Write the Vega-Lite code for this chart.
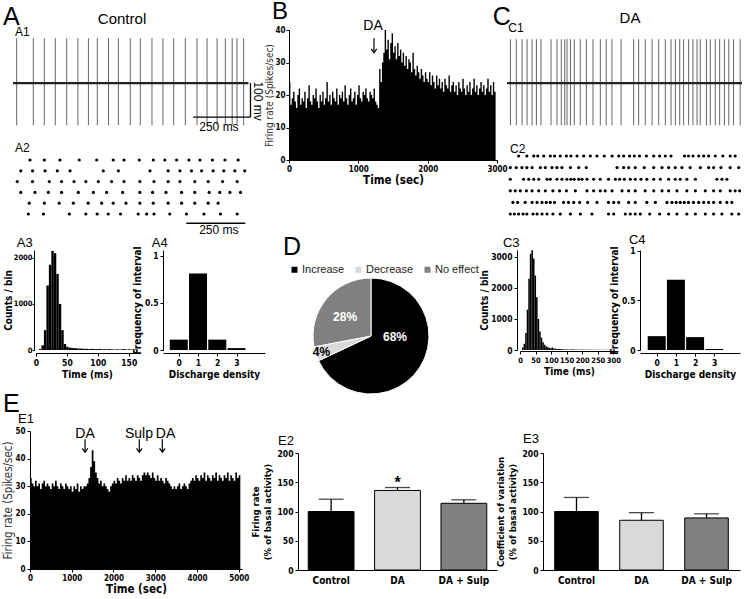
{
"$schema":"https://vega.github.io/schema/vega-lite/v6.json",
"background":"white",
"width":745,"height":599,
"autosize":{"type":"none"},
"padding":0,
"config":{
 "view":{"stroke":null},
 "axis":{"grid":false,"labelFont":"Liberation Sans Narrow, DejaVu Sans Condensed, sans-serif","labelFontWeight":"bold","labelFontSize":8.5,"labelColor":"#000","titleFont":"Liberation Sans Narrow, DejaVu Sans Condensed, sans-serif","titleFontWeight":"bold","titleFontSize":10,"titleColor":"#000","domainColor":"#000","tickColor":"#000","tickSize":3,"labelPadding":2,"titlePadding":3,"labelFlush":false,"labelOverlap":false},
 "text":{"font":"Liberation Sans, Arial, sans-serif","color":"#000"}
},
"datasets":{
 "a1spk":[{"t":16},{"t":89},{"t":137},{"t":185},{"t":235},{"t":284},{"t":330},{"t":369},{"t":418},{"t":461},{"t":513},{"t":557},{"t":608},{"t":656},{"t":703},{"t":754},{"t":805},{"t":849},{"t":893},{"t":929},{"t":959},{"t":980},{"t":1009}],
 "c1spk":[{"t":15},{"t":41},{"t":66},{"t":88},{"t":110},{"t":129},{"t":149},{"t":193},{"t":219},{"t":238},{"t":253},{"t":263},{"t":278},{"t":295},{"t":321},{"t":348},{"t":377},{"t":409},{"t":435},{"t":460},{"t":500},{"t":555},{"t":577},{"t":606},{"t":636},{"t":665},{"t":694},{"t":719},{"t":738},{"t":757},{"t":774},{"t":796},{"t":815},{"t":833},{"t":847},{"t":874},{"t":891},{"t":913},{"t":932},{"t":953},{"t":972},{"t":993},{"t":1022}],
 "a2ras":[
  {"r":1,"t":72},{"r":1,"t":133},{"r":1,"t":199},{"r":1,"t":281},{"r":1,"t":355},{"r":1,"t":425},{"r":1,"t":471},{"r":1,"t":536},{"r":1,"t":595},{"r":1,"t":644},{"r":1,"t":694},{"r":1,"t":746},{"r":1,"t":793},{"r":1,"t":846},{"r":1,"t":899},{"r":1,"t":955},
  {"r":2,"t":33},{"r":2,"t":83},{"r":2,"t":136},{"r":2,"t":188},{"r":2,"t":242},{"r":2,"t":383},{"r":2,"t":447},{"r":2,"t":581},{"r":2,"t":658},{"r":2,"t":708},{"r":2,"t":757},{"r":2,"t":800},{"r":2,"t":849},{"r":2,"t":894},{"r":2,"t":941},{"r":2,"t":983},
  {"r":3,"t":18},{"r":3,"t":83},{"r":3,"t":154},{"r":3,"t":206},{"r":3,"t":259},{"r":3,"t":309},{"r":3,"t":362},{"r":3,"t":418},{"r":3,"t":471},{"r":3,"t":538},{"r":3,"t":598},{"r":3,"t":658},{"r":3,"t":708},{"r":3,"t":771},{"r":3,"t":828},{"r":3,"t":889},{"r":3,"t":951},
  {"r":4,"t":33},{"r":4,"t":93},{"r":4,"t":150},{"r":4,"t":206},{"r":4,"t":277},{"r":4,"t":341},{"r":4,"t":397},{"r":4,"t":465},{"r":4,"t":538},{"r":4,"t":592},{"r":4,"t":649},{"r":4,"t":715},{"r":4,"t":771},{"r":4,"t":832},{"r":4,"t":877},{"r":4,"t":920},{"r":4,"t":965},
  {"r":5,"t":69},{"r":5,"t":133},{"r":5,"t":196},{"r":5,"t":256},{"r":5,"t":319},{"r":5,"t":376},{"r":5,"t":425},{"r":5,"t":479},{"r":5,"t":538},{"r":5,"t":595},{"r":5,"t":658},{"r":5,"t":715},{"r":5,"t":771},{"r":5,"t":828},{"r":5,"t":870},
  {"r":6,"t":65},{"r":6,"t":129},{"r":6,"t":239},{"r":6,"t":309},{"r":6,"t":357},{"r":6,"t":404},{"r":6,"t":456},{"r":6,"t":531},{"r":6,"t":567},{"r":6,"t":598},{"r":6,"t":665},{"r":6,"t":736},{"r":6,"t":810},{"r":6,"t":880},{"r":6,"t":951}],
 "c2ras":[
  {"r":1,"t":49},{"r":1,"t":84},{"r":1,"t":113},{"r":1,"t":130},{"r":1,"t":155},{"r":1,"t":183},{"r":1,"t":201},{"r":1,"t":225},{"r":1,"t":251},{"r":1,"t":270},{"r":1,"t":296},{"r":1,"t":324},{"r":1,"t":352},{"r":1,"t":380},{"r":1,"t":411},{"r":1,"t":444},{"r":1,"t":472},{"r":1,"t":493},{"r":1,"t":518},{"r":1,"t":538},{"r":1,"t":560},{"r":1,"t":589},{"r":1,"t":620},{"r":1,"t":645},{"r":1,"t":669},{"r":1,"t":693},{"r":1,"t":750},{"r":1,"t":767},{"r":1,"t":786},{"r":1,"t":810},{"r":1,"t":831},{"r":1,"t":852},{"r":1,"t":880},{"r":1,"t":912},{"r":1,"t":943},{"r":1,"t":964},
  {"r":2,"t":14},{"r":2,"t":39},{"r":2,"t":63},{"r":2,"t":84},{"r":2,"t":106},{"r":2,"t":141},{"r":2,"t":162},{"r":2,"t":190},{"r":2,"t":211},{"r":2,"t":232},{"r":2,"t":268},{"r":2,"t":303},{"r":2,"t":335},{"r":2,"t":465},{"r":2,"t":493},{"r":2,"t":514},{"r":2,"t":542},{"r":2,"t":580},{"r":2,"t":620},{"r":2,"t":655},{"r":2,"t":683},{"r":2,"t":711},{"r":2,"t":739},{"r":2,"t":774},{"r":2,"t":817},{"r":2,"t":852},{"r":2,"t":873},{"r":2,"t":904},{"r":2,"t":943},{"r":2,"t":979},
  {"r":3,"t":14},{"r":3,"t":70},{"r":3,"t":92},{"r":3,"t":113},{"r":3,"t":134},{"r":3,"t":169},{"r":3,"t":183},{"r":3,"t":211},{"r":3,"t":232},{"r":3,"t":253},{"r":3,"t":270},{"r":3,"t":284},{"r":3,"t":303},{"r":3,"t":317},{"r":3,"t":338},{"r":3,"t":366},{"r":3,"t":394},{"r":3,"t":429},{"r":3,"t":458},{"r":3,"t":476},{"r":3,"t":496},{"r":3,"t":521},{"r":3,"t":542},{"r":3,"t":566},{"r":3,"t":591},{"r":3,"t":620},{"r":3,"t":648},{"r":3,"t":683},{"r":3,"t":711},{"r":3,"t":732},{"r":3,"t":760},{"r":3,"t":796},{"r":3,"t":887},{"r":3,"t":908},{"r":3,"t":929},
  {"r":4,"t":14},{"r":4,"t":35},{"r":4,"t":56},{"r":4,"t":82},{"r":4,"t":106},{"r":4,"t":134},{"r":4,"t":162},{"r":4,"t":194},{"r":4,"t":222},{"r":4,"t":251},{"r":4,"t":289},{"r":4,"t":338},{"r":4,"t":366},{"r":4,"t":394},{"r":4,"t":415},{"r":4,"t":444},{"r":4,"t":486},{"r":4,"t":514},{"r":4,"t":542},{"r":4,"t":584},{"r":4,"t":620},{"r":4,"t":655},{"r":4,"t":683},{"r":4,"t":718},{"r":4,"t":760},{"r":4,"t":796},{"r":4,"t":838},{"r":4,"t":873},{"r":4,"t":901},{"r":4,"t":943},{"r":4,"t":964},{"r":4,"t":983},
  {"r":5,"t":25},{"r":5,"t":45},{"r":5,"t":77},{"r":5,"t":106},{"r":5,"t":127},{"r":5,"t":148},{"r":5,"t":166},{"r":5,"t":183},{"r":5,"t":201},{"r":5,"t":239},{"r":5,"t":260},{"r":5,"t":282},{"r":5,"t":307},{"r":5,"t":341},{"r":5,"t":380},{"r":5,"t":429},{"r":5,"t":451},{"r":5,"t":472},{"r":5,"t":514},{"r":5,"t":542},{"r":5,"t":591},{"r":5,"t":627},{"r":5,"t":676},{"r":5,"t":697},{"r":5,"t":715},{"r":5,"t":732},{"r":5,"t":749},{"r":5,"t":767},{"r":5,"t":788},{"r":5,"t":810},{"r":5,"t":831},{"r":5,"t":852},{"r":5,"t":873},{"r":5,"t":901},{"r":5,"t":929},{"r":5,"t":950},
  {"r":6,"t":14},{"r":6,"t":31},{"r":6,"t":49},{"r":6,"t":68},{"r":6,"t":84},{"r":6,"t":110},{"r":6,"t":127},{"r":6,"t":148},{"r":6,"t":169},{"r":6,"t":194},{"r":6,"t":225},{"r":6,"t":268},{"r":6,"t":310},{"r":6,"t":359},{"r":6,"t":429},{"r":6,"t":451},{"r":6,"t":500},{"r":6,"t":521},{"r":6,"t":542},{"r":6,"t":563},{"r":6,"t":603},{"r":6,"t":645},{"r":6,"t":683},{"r":6,"t":718},{"r":6,"t":760},{"r":6,"t":796},{"r":6,"t":838},{"r":6,"t":873},{"r":6,"t":908},{"r":6,"t":950},{"r":6,"t":979}],
 "a3":[{"t":4,"c":20},{"t":8,"c":100},{"t":12,"c":430},{"t":16,"c":1400},{"t":20,"c":1850},{"t":24,"c":2150},{"t":28,"c":2100},{"t":32,"c":1650},{"t":36,"c":1000},{"t":40,"c":430},{"t":44,"c":130},{"t":48,"c":70},{"t":52,"c":50},{"t":56,"c":45},{"t":60,"c":40},{"t":64,"c":35},{"t":68,"c":30},{"t":72,"c":30},{"t":76,"c":25},{"t":80,"c":25},{"t":84,"c":20},{"t":88,"c":25},{"t":92,"c":20},{"t":96,"c":20},{"t":100,"c":25},{"t":104,"c":15},{"t":108,"c":20},{"t":112,"c":15},{"t":116,"c":20},{"t":120,"c":15},{"t":124,"c":10},{"t":128,"c":15},{"t":132,"c":10},{"t":136,"c":15},{"t":140,"c":20},{"t":144,"c":10},{"t":148,"c":15},{"t":152,"c":10},{"t":156,"c":10},{"t":160,"c":10}],
 "c3":[{"t":5,"c":80},{"t":10,"c":200},{"t":15,"c":550},{"t":20,"c":1300},{"t":25,"c":2300},{"t":30,"c":3100},{"t":35,"c":3220},{"t":40,"c":2950},{"t":45,"c":2400},{"t":50,"c":1700},{"t":55,"c":1000},{"t":60,"c":600},{"t":65,"c":400},{"t":70,"c":250},{"t":75,"c":170},{"t":80,"c":120},{"t":85,"c":90},{"t":90,"c":70},{"t":95,"c":60},{"t":100,"c":80},{"t":105,"c":50},{"t":110,"c":40},{"t":115,"c":35},{"t":120,"c":30},{"t":125,"c":30},{"t":130,"c":25},{"t":135,"c":25},{"t":140,"c":20},{"t":145,"c":20},{"t":150,"c":20},{"t":155,"c":15},{"t":160,"c":15},{"t":165,"c":20},{"t":170,"c":15},{"t":175,"c":10},{"t":180,"c":15},{"t":185,"c":10},{"t":190,"c":10},{"t":195,"c":15},{"t":200,"c":10},{"t":205,"c":10},{"t":210,"c":10},{"t":215,"c":5},{"t":220,"c":10},{"t":225,"c":5},{"t":230,"c":10},{"t":235,"c":5},{"t":240,"c":5},{"t":245,"c":10},{"t":250,"c":5},{"t":255,"c":5},{"t":260,"c":5},{"t":265,"c":5},{"t":270,"c":5},{"t":275,"c":5},{"t":280,"c":5},{"t":285,"c":5},{"t":290,"c":5},{"t":295,"c":5},{"t":300,"c":5}],
 "a4":[{"d":0,"f":0.11},{"d":1,"f":0.81},{"d":2,"f":0.11},{"d":3,"f":0.02}],
 "c4":[{"d":0,"f":0.14},{"d":1,"f":0.71},{"d":2,"f":0.13},{"d":3,"f":0.01}],
 "bfr":[{"t":0,"v":24},{"t":20,"v":17},{"t":40,"v":19},{"t":60,"v":21},{"t":80,"v":18},{"t":100,"v":16},{"t":120,"v":20},{"t":140,"v":22},{"t":160,"v":17},{"t":180,"v":19},{"t":200,"v":18},{"t":220,"v":21},{"t":240,"v":16},{"t":260,"v":19},{"t":280,"v":23},{"t":300,"v":18},{"t":320,"v":17},{"t":340,"v":20},{"t":360,"v":19},{"t":380,"v":22},{"t":400,"v":18},{"t":420,"v":16},{"t":440,"v":20},{"t":460,"v":18},{"t":480,"v":21},{"t":500,"v":17},{"t":520,"v":19},{"t":540,"v":24},{"t":560,"v":18},{"t":580,"v":20},{"t":600,"v":17},{"t":620,"v":21},{"t":640,"v":19},{"t":660,"v":18},{"t":680,"v":22},{"t":700,"v":17},{"t":720,"v":20},{"t":740,"v":19},{"t":760,"v":21},{"t":780,"v":18},{"t":800,"v":23},{"t":820,"v":19},{"t":840,"v":17},{"t":860,"v":20},{"t":880,"v":22},{"t":900,"v":18},{"t":920,"v":19},{"t":940,"v":21},{"t":960,"v":17},{"t":980,"v":20},{"t":1000,"v":23},{"t":1020,"v":19},{"t":1040,"v":18},{"t":1060,"v":21},{"t":1080,"v":20},{"t":1100,"v":22},{"t":1120,"v":19},{"t":1140,"v":18},{"t":1160,"v":21},{"t":1180,"v":20},{"t":1200,"v":19},{"t":1220,"v":22},{"t":1240,"v":18},{"t":1260,"v":17},{"t":1280,"v":16},{"t":1300,"v":28},{"t":1320,"v":24},{"t":1340,"v":30},{"t":1360,"v":33},{"t":1380,"v":40},{"t":1400,"v":34},{"t":1420,"v":37},{"t":1440,"v":31},{"t":1460,"v":36},{"t":1480,"v":39},{"t":1500,"v":33},{"t":1520,"v":35},{"t":1540,"v":31},{"t":1560,"v":36},{"t":1580,"v":32},{"t":1600,"v":34},{"t":1620,"v":30},{"t":1640,"v":33},{"t":1660,"v":29},{"t":1680,"v":32},{"t":1700,"v":28},{"t":1720,"v":31},{"t":1740,"v":30},{"t":1760,"v":27},{"t":1780,"v":33},{"t":1800,"v":28},{"t":1820,"v":26},{"t":1840,"v":29},{"t":1860,"v":27},{"t":1880,"v":25},{"t":1900,"v":28},{"t":1920,"v":26},{"t":1940,"v":24},{"t":1960,"v":27},{"t":1980,"v":25},{"t":2000,"v":24},{"t":2020,"v":27},{"t":2040,"v":23},{"t":2060,"v":26},{"t":2080,"v":24},{"t":2100,"v":22},{"t":2120,"v":26},{"t":2140,"v":23},{"t":2160,"v":25},{"t":2180,"v":22},{"t":2200,"v":24},{"t":2220,"v":21},{"t":2240,"v":25},{"t":2260,"v":23},{"t":2280,"v":22},{"t":2300,"v":26},{"t":2320,"v":21},{"t":2340,"v":23},{"t":2360,"v":24},{"t":2380,"v":21},{"t":2400,"v":23},{"t":2420,"v":20},{"t":2440,"v":24},{"t":2460,"v":22},{"t":2480,"v":21},{"t":2500,"v":25},{"t":2520,"v":22},{"t":2540,"v":20},{"t":2560,"v":23},{"t":2580,"v":21},{"t":2600,"v":24},{"t":2620,"v":20},{"t":2640,"v":22},{"t":2660,"v":25},{"t":2680,"v":21},{"t":2700,"v":23},{"t":2720,"v":20},{"t":2740,"v":22},{"t":2760,"v":24},{"t":2780,"v":21},{"t":2800,"v":23},{"t":2820,"v":20},{"t":2840,"v":22},{"t":2860,"v":25},{"t":2880,"v":21},{"t":2900,"v":23},{"t":2920,"v":20},{"t":2940,"v":24},{"t":2960,"v":21},{"t":2980,"v":22}],
 "e1fr":[{"t":0,"v":33},{"t":40,"v":31},{"t":80,"v":30},{"t":120,"v":32},{"t":160,"v":30},{"t":200,"v":31},{"t":240,"v":29},{"t":280,"v":31},{"t":320,"v":32},{"t":360,"v":30},{"t":400,"v":31},{"t":440,"v":30},{"t":480,"v":29},{"t":520,"v":31},{"t":560,"v":30},{"t":600,"v":32},{"t":640,"v":30},{"t":680,"v":29},{"t":720,"v":31},{"t":760,"v":30},{"t":800,"v":29},{"t":840,"v":31},{"t":880,"v":30},{"t":920,"v":29},{"t":960,"v":30},{"t":1000,"v":28},{"t":1040,"v":30},{"t":1080,"v":29},{"t":1120,"v":31},{"t":1160,"v":28},{"t":1200,"v":30},{"t":1240,"v":29},{"t":1280,"v":30},{"t":1320,"v":30},{"t":1360,"v":31},{"t":1400,"v":33},{"t":1440,"v":37},{"t":1480,"v":43},{"t":1520,"v":39},{"t":1560,"v":35},{"t":1600,"v":33},{"t":1640,"v":31},{"t":1680,"v":32},{"t":1720,"v":30},{"t":1760,"v":31},{"t":1800,"v":30},{"t":1840,"v":29},{"t":1880,"v":28},{"t":1920,"v":30},{"t":1960,"v":31},{"t":2000,"v":32},{"t":2040,"v":31},{"t":2080,"v":33},{"t":2120,"v":32},{"t":2160,"v":31},{"t":2200,"v":33},{"t":2240,"v":32},{"t":2280,"v":34},{"t":2320,"v":32},{"t":2360,"v":33},{"t":2400,"v":32},{"t":2440,"v":34},{"t":2480,"v":33},{"t":2520,"v":32},{"t":2560,"v":34},{"t":2600,"v":33},{"t":2640,"v":32},{"t":2680,"v":34},{"t":2720,"v":35},{"t":2760,"v":34},{"t":2800,"v":35},{"t":2840,"v":34},{"t":2880,"v":33},{"t":2920,"v":35},{"t":2960,"v":33},{"t":3000,"v":32},{"t":3040,"v":34},{"t":3080,"v":32},{"t":3120,"v":33},{"t":3160,"v":32},{"t":3200,"v":31},{"t":3240,"v":33},{"t":3280,"v":32},{"t":3320,"v":31},{"t":3360,"v":30},{"t":3400,"v":29},{"t":3440,"v":30},{"t":3480,"v":29},{"t":3520,"v":30},{"t":3560,"v":31},{"t":3600,"v":29},{"t":3640,"v":30},{"t":3680,"v":31},{"t":3720,"v":30},{"t":3760,"v":29},{"t":3800,"v":31},{"t":3840,"v":32},{"t":3880,"v":33},{"t":3920,"v":32},{"t":3960,"v":34},{"t":4000,"v":33},{"t":4040,"v":32},{"t":4080,"v":34},{"t":4120,"v":33},{"t":4160,"v":35},{"t":4200,"v":32},{"t":4240,"v":34},{"t":4280,"v":33},{"t":4320,"v":32},{"t":4360,"v":34},{"t":4400,"v":33},{"t":4440,"v":35},{"t":4480,"v":32},{"t":4520,"v":34},{"t":4560,"v":33},{"t":4600,"v":32},{"t":4640,"v":34},{"t":4680,"v":33},{"t":4720,"v":35},{"t":4760,"v":32},{"t":4800,"v":34},{"t":4840,"v":33},{"t":4880,"v":32},{"t":4920,"v":35},{"t":4960,"v":33},{"t":5000,"v":34},{"t":5040,"v":33}],
 "pie":[{"cat":"Increase","v":68,"o":1},{"cat":"Decrease","v":4,"o":2},{"cat":"No effect","v":28,"o":3}],
 "e2":[{"g":"Control","m":100,"hi":121},{"g":"DA","m":136,"hi":141},{"g":"DA + Sulp","m":114,"hi":120}],
 "e3":[{"g":"Control","m":100,"hi":124},{"g":"DA","m":85,"hi":98},{"g":"DA + Sulp","m":89,"hi":96}]
},
"resolve":{"scale":{"x":"independent","y":"independent","color":"independent"},"axis":{"x":"independent","y":"independent"}},
"layer":[
 {"layer":[
  {"data":{"name":"a1spk"},"mark":{"type":"rule","color":"#555","strokeWidth":0.9},"encoding":{"x":{"field":"t","type":"quantitative","scale":{"domain":[0,1050],"range":[13,253],"nice":false},"axis":null},"y":{"datum":132,"type":"quantitative","scale":{"domain":[-138,156],"range":[130,30],"nice":false},"axis":null},"y2":{"datum":-124}}},
  {"data":{"values":[{}]},"mark":{"type":"rule","color":"#222","strokeWidth":2.2},"encoding":{"x":{"datum":0},"x2":{"datum":1030},"y":{"datum":0}}},
  {"data":{"values":[{}]},"mark":{"type":"rule","color":"#000","strokeWidth":1.3},"encoding":{"x":{"datum":1039},"y":{"datum":0},"y2":{"datum":-100}}},
  {"data":{"values":[{}]},"mark":{"type":"rule","color":"#000","strokeWidth":1.3},"encoding":{"x":{"datum":788},"x2":{"datum":1039},"y":{"datum":-100}}},
  {"data":{"values":[{}]},"mark":{"type":"text","text":"250 ms","fontSize":12,"align":"center","baseline":"alphabetic"},"encoding":{"x":{"datum":901},"y":{"datum":-141}}},
  {"data":{"values":[{}]},"mark":{"type":"text","text":"100 mv","fontSize":12,"angle":90,"align":"center","baseline":"middle"},"encoding":{"x":{"datum":1074},"y":{"datum":-53}}},
  {"data":{"values":[{}]},"mark":{"type":"text","text":"A","fontSize":25,"align":"left","baseline":"alphabetic"},"encoding":{"x":{"datum":-44},"y":{"datum":172}}},
  {"data":{"values":[{}]},"mark":{"type":"text","text":"Control","fontSize":15,"align":"center","baseline":"alphabetic"},"encoding":{"x":{"datum":477},"y":{"datum":173.5}}},
  {"data":{"values":[{}]},"mark":{"type":"text","text":"A1","fontSize":12,"align":"left","baseline":"alphabetic"},"encoding":{"x":{"datum":9},"y":{"datum":137}}}
 ]},
 {"layer":[
  {"data":{"name":"a2ras"},"mark":{"type":"point","filled":true,"color":"#000","size":10,"opacity":1},"encoding":{"x":{"field":"t","type":"quantitative","scale":{"domain":[0,1018],"range":[13,253],"nice":false},"axis":null},"y":{"field":"r","type":"quantitative","scale":{"domain":[0.07,7.02],"range":[150,225],"nice":false,"zero":false},"axis":null}}},
  {"data":{"values":[{}]},"mark":{"type":"rule","color":"#000","strokeWidth":1.5},"encoding":{"x":{"datum":735},"x2":{"datum":985},"y":{"datum":6.86}}},
  {"data":{"values":[{}]},"mark":{"type":"text","text":"250 ms","fontSize":12,"align":"center","baseline":"alphabetic"},"encoding":{"x":{"datum":873},"y":{"datum":7.81}}},
  {"data":{"values":[{}]},"mark":{"type":"text","text":"A2","fontSize":12,"align":"left","baseline":"alphabetic"},"encoding":{"x":{"datum":8},"y":{"datum":0.255}}}
 ]},
 {"layer":[
  {"data":{"name":"a3"},"mark":{"type":"bar","color":"#000","binSpacing":0},"encoding":{"x":{"field":"t","type":"quantitative","bin":{"binned":true,"step":4},"scale":{"domain":[0,165],"range":[36,138],"nice":false},"axis":{"orient":"bottom","offset":-246,"values":[0,50,100,150],"format":"d","title":"Time (ms)"}},"y":{"field":"c","type":"quantitative","scale":{"domain":[0,2170],"range":[350,250],"nice":false},"axis":{"orient":"left","offset":-34,"values":[0,1000,2000],"format":"d","title":"Counts / bin","titlePadding":0,"labelPadding":0,"labelFontSize":7.5,"tickSize":2}}}},
  {"data":{"values":[{}]},"mark":{"type":"text","text":"A3","fontSize":13,"align":"left","baseline":"alphabetic"},"encoding":{"x":{"datum":-31},"y":{"datum":2235}}}
 ]},
 {"layer":[
  {"data":{"name":"a4"},"mark":{"type":"bar","color":"#000","width":18},"encoding":{"x":{"field":"d","type":"quantitative","scale":{"domain":[-0.56,4.22],"range":[163,265],"nice":false,"zero":false},"axis":{"orient":"bottom","offset":-246,"values":[0,1,2,3],"format":"d","title":"Discharge density"}},"y":{"field":"f","type":"quantitative","scale":{"domain":[0,1.06],"range":[350,250],"nice":false},"axis":{"orient":"left","offset":-163,"values":[0,0.5,1],"format":"~g","title":"Frequency of interval","titlePadding":2}}}},
  {"data":{"values":[{}]},"mark":{"type":"text","text":"A4","fontSize":13,"align":"left","baseline":"alphabetic"},"encoding":{"x":{"datum":-1.4},"y":{"datum":1.092}}}
 ]},
 {"layer":[
  {"data":{"name":"bfr"},"mark":{"type":"area","interpolate":"step-after","color":"#000"},"encoding":{"x":{"field":"t","type":"quantitative","scale":{"domain":[0,3000],"range":[289,497],"nice":false},"axis":{"orient":"bottom","offset":-439,"values":[0,1000,2000,3000],"format":"d","title":"Time (sec)","titleFontSize":11.5,"titlePadding":1,"labelFontSize":8}},"y":{"field":"v","type":"quantitative","scale":{"domain":[0,40],"range":[160,30],"nice":false},"axis":{"orient":"left","offset":-289,"values":[0,10,20,30,40],"format":"d","title":"Firing rate (Spikes/sec)","titleFontWeight":"normal","titleColor":"#333","titleFontSize":10,"titlePadding":0,"labelFontSize":8,"labelPadding":1}}}},
  {"data":{"values":[{}]},"mark":{"type":"text","text":"B","fontSize":24,"align":"left","baseline":"alphabetic"},"encoding":{"x":{"datum":-245},"y":{"datum":43.4}}},
  {"data":{"values":[{}]},"mark":{"type":"text","text":"DA","fontSize":14,"align":"center","baseline":"alphabetic"},"encoding":{"x":{"datum":1212},"y":{"datum":40}}},
  {"data":{"values":[{}]},"mark":{"type":"rule","color":"#000","strokeWidth":1.2},"encoding":{"x":{"datum":1226},"y":{"datum":37.5},"y2":{"datum":33}}},
  {"data":{"values":[{}]},"mark":{"type":"point","shape":"M-1,-1.4L0,0L1,-1.4","size":30,"filled":false,"stroke":"#000","strokeWidth":1.2,"opacity":1},"encoding":{"x":{"datum":1226},"y":{"datum":33}}}
 ]},
 {"layer":[
  {"data":{"name":"pie"},"mark":{"type":"arc","outerRadius":58,"stroke":"#fff","strokeWidth":1},"encoding":{"x":{"datum":0.5,"type":"quantitative","scale":{"domain":[0,1],"range":[289,453],"nice":false},"axis":null},"y":{"datum":0.5,"type":"quantitative","scale":{"domain":[0,1],"range":[278,394],"nice":false},"axis":null},"theta":{"field":"v","type":"quantitative","stack":true},"order":{"field":"o","type":"quantitative"},"color":{"field":"cat","type":"nominal","scale":{"domain":["Increase","Decrease","No effect"],"range":["#000000","#d9d9d9","#808080"]},"legend":{"title":null,"orient":"none","legendX":289,"legendY":264,"direction":"horizontal","symbolType":"square","symbolSize":36,"symbolStrokeWidth":0,"labelFont":"Liberation Sans, Arial, sans-serif","labelFontSize":11,"labelColor":"#222","columnPadding":8,"labelOffset":2}}}},
  {"data":{"values":[{}]},"mark":{"type":"text","text":"68%","radius":24,"color":"#fff","fontWeight":"bold","fontSize":12},"encoding":{"x":{"datum":0.5},"y":{"datum":0.5},"theta":{"datum":25.5,"type":"quantitative"}}},
  {"data":{"values":[{}]},"mark":{"type":"text","text":"28%","radius":32,"color":"#fff","fontWeight":"bold","fontSize":12},"encoding":{"x":{"datum":0.5},"y":{"datum":0.5},"theta":{"datum":85,"type":"quantitative"}}},
  {"data":{"values":[{}]},"mark":{"type":"text","text":"4%","radius":52,"color":"#000","fontWeight":"bold","fontSize":12},"encoding":{"x":{"datum":0.5},"y":{"datum":0.5},"theta":{"datum":70,"type":"quantitative"}}},
  {"data":{"values":[{}]},"mark":{"type":"text","text":"D","fontSize":25,"align":"left","baseline":"alphabetic"},"encoding":{"x":{"datum":-0.037},"y":{"datum":-0.198}}}
 ]},
 {"layer":[
  {"data":{"name":"c1spk"},"mark":{"type":"rule","color":"#555","strokeWidth":0.9},"encoding":{"x":{"field":"t","type":"quantitative","scale":{"domain":[0,1030],"range":[507,742],"nice":false},"axis":null},"y":{"datum":129,"type":"quantitative","scale":{"domain":[-138,156],"range":[130,30],"nice":false},"axis":null},"y2":{"datum":-124}}},
  {"data":{"values":[{}]},"mark":{"type":"rule","color":"#222","strokeWidth":2.2},"encoding":{"x":{"datum":0},"x2":{"datum":1030},"y":{"datum":0}}},
  {"data":{"values":[{}]},"mark":{"type":"text","text":"C","fontSize":25,"align":"left","baseline":"alphabetic"},"encoding":{"x":{"datum":-63},"y":{"datum":170.6}}},
  {"data":{"values":[{}]},"mark":{"type":"text","text":"DA","fontSize":15,"align":"center","baseline":"alphabetic"},"encoding":{"x":{"datum":539},"y":{"datum":175.6}}},
  {"data":{"values":[{}]},"mark":{"type":"text","text":"C1","fontSize":12,"align":"left","baseline":"alphabetic"},"encoding":{"x":{"datum":6},"y":{"datum":151}}}
 ]},
 {"layer":[
  {"data":{"name":"c2ras"},"mark":{"type":"point","filled":true,"color":"#000","size":10,"opacity":1},"encoding":{"x":{"field":"t","type":"quantitative","scale":{"domain":[0,993],"range":[507,742],"nice":false},"axis":null},"y":{"field":"r","type":"quantitative","scale":{"domain":[0.48,6.95],"range":[150,225],"nice":false,"zero":false},"axis":null}}},
  {"data":{"values":[{}]},"mark":{"type":"text","text":"C2","fontSize":12,"align":"left","baseline":"alphabetic"},"encoding":{"x":{"datum":13},"y":{"datum":0.74}}}
 ]},
 {"layer":[
  {"data":{"name":"c3"},"mark":{"type":"bar","color":"#000","binSpacing":0},"encoding":{"x":{"field":"t","type":"quantitative","bin":{"binned":true,"step":5},"scale":{"domain":[0,315],"range":[520,618],"nice":false},"axis":{"orient":"bottom","offset":-248,"values":[0,50,100,150,200,250,300],"format":"d","title":"Time (ms)","labelFontSize":7.5}},"y":{"field":"c","type":"quantitative","scale":{"domain":[0,3225],"range":[350,250],"nice":false},"axis":{"orient":"left","offset":-517,"values":[0,1000,2000,3000],"format":"d","title":"Counts / bin","titlePadding":1}}}},
  {"data":{"values":[{}]},"mark":{"type":"text","text":"C3","fontSize":13,"align":"left","baseline":"alphabetic"},"encoding":{"x":{"datum":-55},"y":{"datum":3322}}}
 ]},
 {"layer":[
  {"data":{"name":"c4"},"mark":{"type":"bar","color":"#000","width":18},"encoding":{"x":{"field":"d","type":"quantitative","scale":{"domain":[-0.61,4.08],"range":[640,740],"nice":false,"zero":false},"axis":{"orient":"bottom","offset":-246,"values":[0,1,2,3],"format":"d","title":"Discharge density"}},"y":{"field":"f","type":"quantitative","scale":{"domain":[0,1.01],"range":[350,250],"nice":false},"axis":{"orient":"left","offset":-640,"values":[0,0.5,1],"format":"~g","title":"Frequency of interval","titlePadding":2}}}},
  {"data":{"values":[{}]},"mark":{"type":"text","text":"C4","fontSize":13,"align":"left","baseline":"alphabetic"},"encoding":{"x":{"datum":-1.45},"y":{"datum":1.07}}}
 ]},
 {"layer":[
  {"data":{"name":"e1fr"},"mark":{"type":"area","interpolate":"step-after","color":"#000"},"encoding":{"x":{"field":"t","type":"quantitative","scale":{"domain":[0,5080],"range":[30,242],"nice":false},"axis":{"orient":"bottom","offset":-30,"values":[0,1000,2000,3000,4000,5000],"format":"d","title":"Time (sec)","titleFontSize":11.5,"titlePadding":1,"labelFontSize":8}},"y":{"field":"v","type":"quantitative","scale":{"domain":[0,50],"range":[569,431],"nice":false},"axis":{"orient":"left","offset":-30,"values":[0,10,20,30,40,50],"format":"d","title":"Firing rate (Spikes/sec)","titleFontWeight":"normal","titleColor":"#333","titleFontSize":11.5,"titlePadding":1,"labelFontSize":8}}}},
  {"data":{"values":[{}]},"mark":{"type":"text","text":"E","fontSize":25,"align":"left","baseline":"alphabetic"},"encoding":{"x":{"datum":-647},"y":{"datum":56.9}}},
  {"data":{"values":[{}]},"mark":{"type":"text","text":"E1","fontSize":13,"align":"left","baseline":"alphabetic"},"encoding":{"x":{"datum":-288},"y":{"datum":52.9}}},
  {"data":{"values":[{}]},"mark":{"type":"text","text":"E2","fontSize":13,"align":"left","baseline":"alphabetic"},"encoding":{"x":{"datum":5943},"y":{"datum":44.9}}},
  {"data":{"values":[{}]},"mark":{"type":"text","text":"E3","fontSize":13,"align":"left","baseline":"alphabetic"},"encoding":{"x":{"datum":11813},"y":{"datum":45.7}}},
  {"data":{"values":[{}]},"mark":{"type":"text","text":"DA","fontSize":14,"align":"center","baseline":"alphabetic"},"encoding":{"x":{"datum":1318},"y":{"datum":47.5}}},
  {"data":{"values":[{}]},"mark":{"type":"text","text":"Sulp","fontSize":14,"align":"center","baseline":"alphabetic"},"encoding":{"x":{"datum":2612},"y":{"datum":47.5}}},
  {"data":{"values":[{}]},"mark":{"type":"text","text":"DA","fontSize":14,"align":"center","baseline":"alphabetic"},"encoding":{"x":{"datum":3247},"y":{"datum":47.5}}},
  {"data":{"values":[{}]},"mark":{"type":"rule","color":"#000","strokeWidth":1.2},"encoding":{"x":{"datum":1319},"y":{"datum":47},"y2":{"datum":42.3}}},
  {"data":{"values":[{}]},"mark":{"type":"rule","color":"#000","strokeWidth":1.2},"encoding":{"x":{"datum":2619},"y":{"datum":47},"y2":{"datum":42.3}}},
  {"data":{"values":[{}]},"mark":{"type":"rule","color":"#000","strokeWidth":1.2},"encoding":{"x":{"datum":3171},"y":{"datum":47},"y2":{"datum":42.3}}},
  {"data":{"values":[{}]},"mark":{"type":"point","shape":"M-1,-1.4L0,0L1,-1.4","size":30,"filled":false,"stroke":"#000","strokeWidth":1.2,"opacity":1},"encoding":{"x":{"datum":1319},"y":{"datum":42.3}}},
  {"data":{"values":[{}]},"mark":{"type":"point","shape":"M-1,-1.4L0,0L1,-1.4","size":30,"filled":false,"stroke":"#000","strokeWidth":1.2,"opacity":1},"encoding":{"x":{"datum":2619},"y":{"datum":42.3}}},
  {"data":{"values":[{}]},"mark":{"type":"point","shape":"M-1,-1.4L0,0L1,-1.4","size":30,"filled":false,"stroke":"#000","strokeWidth":1.2,"opacity":1},"encoding":{"x":{"datum":3171},"y":{"datum":42.3}}}
 ]},
 {"data":{"name":"e2"},
  "encoding":{"x":{"field":"g","type":"nominal","sort":null,"scale":{"range":[298,497],"paddingInner":0.31,"paddingOuter":0.154},"axis":{"orient":"bottom","offset":-29,"title":null,"labelAngle":0,"ticks":false,"labelFontSize":10,"labelPadding":5}}},
  "layer":[
   {"mark":{"type":"bar","stroke":"#000","strokeWidth":1},"encoding":{"y":{"field":"m","type":"quantitative","scale":{"domain":[0,200],"range":[570,453],"nice":false},"axis":{"orient":"left","offset":-298,"values":[0,50,100,150,200],"format":"d","title":["Firing rate","(% of basal activity)"],"titleFontSize":9.5,"titlePadding":5}},"color":{"field":"g","type":"nominal","scale":{"domain":["Control","DA","DA + Sulp"],"range":["#000000","#d9d9d9","#808080"]},"legend":null}}},
   {"mark":{"type":"rule","color":"#000","strokeWidth":1.3},"encoding":{"y":{"field":"m","type":"quantitative"},"y2":{"field":"hi"}}},
   {"mark":{"type":"tick","color":"#000","thickness":1.3,"size":25},"encoding":{"y":{"field":"hi","type":"quantitative"}}},
   {"transform":[{"filter":"datum.g == 'DA'"}],"mark":{"type":"text","text":"*","fontSize":16,"fontWeight":"bold","baseline":"alphabetic"},"encoding":{"y":{"datum":141}}}
  ]},
 {"data":{"name":"e3"},
  "encoding":{"x":{"field":"g","type":"nominal","sort":null,"scale":{"range":[543,740],"paddingInner":0.33,"paddingOuter":0.18},"axis":{"orient":"bottom","offset":-29,"title":null,"labelAngle":0,"ticks":false,"labelFontSize":10,"labelPadding":5}}},
  "layer":[
   {"mark":{"type":"bar","stroke":"#000","strokeWidth":1},"encoding":{"y":{"field":"m","type":"quantitative","scale":{"domain":[0,200],"range":[570,453],"nice":false},"axis":{"orient":"left","offset":-543,"values":[0,50,100,150,200],"format":"d","title":["Coefficient of variation","(% of basal activity)"],"titleFontSize":9.5,"titlePadding":5}},"color":{"field":"g","type":"nominal","scale":{"domain":["Control","DA","DA + Sulp"],"range":["#000000","#d9d9d9","#808080"]},"legend":null}}},
   {"mark":{"type":"rule","color":"#000","strokeWidth":1.3},"encoding":{"y":{"field":"m","type":"quantitative"},"y2":{"field":"hi"}}},
   {"mark":{"type":"tick","color":"#000","thickness":1.3,"size":25},"encoding":{"y":{"field":"hi","type":"quantitative"}}}
  ]}
]
}
